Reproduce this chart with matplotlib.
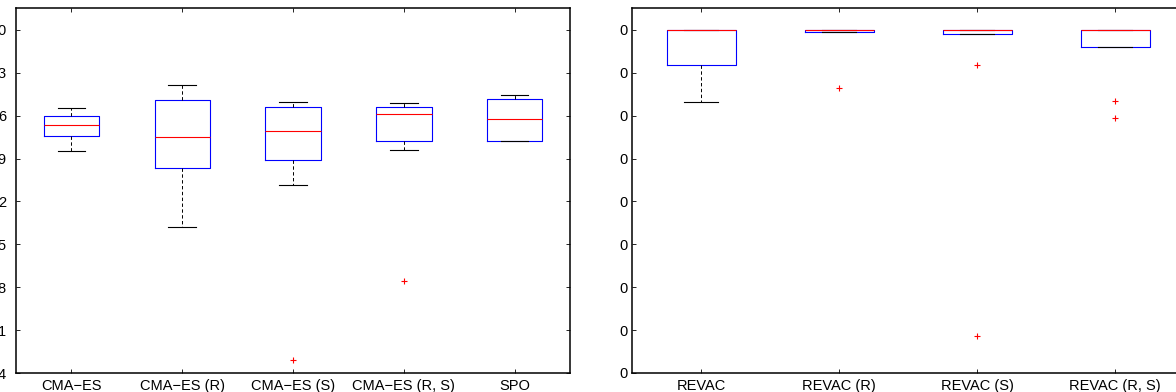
import matplotlib
matplotlib.use("Agg")
import matplotlib.pyplot as plt
import numpy as np

plt.rcParams['font.family'] = ['Liberation Sans', 'DejaVu Sans']

# ---- left panel data ----
left_labels = ["CMA\u2212ES", "CMA\u2212ES (R)", "CMA\u2212ES (S)", "CMA\u2212ES (R, S)", "SPO"]
left_whislo = [0.99803, 0.99679, 0.99747, 0.99804, 0.99819]
left_q1     = [0.99827, 0.99775, 0.99788, 0.99818, 0.99819]
left_med    = [0.99845, 0.99825, 0.99835, 0.99863, 0.99855]
left_q3     = [0.99859, 0.99886, 0.99874, 0.99874, 0.99888]
left_whishi = [0.99873, 0.99910, 0.99882, 0.99881, 0.99894]
left_fliers = [[], [], [0.99461], [0.99590], []]
left_yticks = [0.9944, 0.9951, 0.9958, 0.9965, 0.9972, 0.9979, 0.9986, 0.9993, 1.0000]
left_yticklabels = ["4", "1", "8", "5", "2", "9", "6", "3", "0"]

# ---- right panel data ----
right_labels = ["REVAC", "REVAC (R)", "REVAC (S)", "REVAC (R, S)"]
right_whislo = [63.28, 79.46, 79.00, 76.10]
right_q1     = [71.84, 79.46, 79.00, 76.10]
right_med    = [80.00, 80.00, 80.00, 80.00]
right_q3     = [80.00, 80.00, 80.00, 80.00]
right_whishi = [80.00, 80.00, 80.00, 80.00]
right_fliers = [[], [66.40], [71.84, 8.63], [63.37, 59.55]]
right_yticks = [0, 10, 20, 30, 40, 50, 60, 70, 80]
right_yticklabels = ["0"] * 9

W, H = 1176, 392
fig = plt.figure(figsize=(W / 100, H / 100), dpi=100)

bottom = 1 - 373 / H
top = 1 - 8 / H
axL = fig.add_axes([16 / W, bottom, (570 - 16) / W, top - bottom])
axR = fig.add_axes([632 / W, bottom, (1184 - 632) / W, top - bottom])


def make_stats(labels, wlo, q1, med, q3, whi, fl):
    stats = []
    for i in range(len(labels)):
        stats.append(dict(label=labels[i], whislo=wlo[i], q1=q1[i], med=med[i],
                          q3=q3[i], whishi=whi[i], fliers=np.array(fl[i])))
    return stats


boxprops = dict(color=(0, 0, 1), linewidth=0.8)
medianprops = dict(color=(1, 0, 0), linewidth=0.8)
whiskerprops = dict(color='black', linewidth=0.7, linestyle=(0, (3.5, 2.5)))
capprops = dict(color='black', linewidth=0.8)
flierprops = dict(marker='+', markeredgecolor=(1, 0, 0), markersize=5,
                  markeredgewidth=0.8, linestyle='none')


def style(ax, yticks, yticklabels, pad):
    ax.set_yticks(yticks)
    ax.set_yticklabels(yticklabels)
    ax.tick_params(direction='in', top=True, right=True, length=3,
                   width=0.6, labelsize=10.5, colors='black')
    ax.tick_params(axis='y', pad=pad)
    ax.tick_params(axis='x', pad=4)
    for s in ax.spines.values():
        s.set_linewidth(1.1)
        s.set_color('black')


statsL = make_stats(left_labels, left_whislo, left_q1, left_med, left_q3, left_whishi, left_fliers)
axL.bxp(statsL, positions=np.arange(1, len(statsL) + 1), widths=0.5, capwidths=0.25,
        boxprops=boxprops, medianprops=medianprops, whiskerprops=whiskerprops,
        capprops=capprops, flierprops=flierprops)
axL.set_xlim(0.5, len(statsL) + 0.5)
axL.set_ylim(0.9944, 0.9944 + 0.0007 * 8.513)
style(axL, left_yticks, left_yticklabels, 7.2)

statsR = make_stats(right_labels, right_whislo, right_q1, right_med, right_q3, right_whishi, right_fliers)
axR.bxp(statsR, positions=np.arange(1, len(statsR) + 1), widths=0.5, capwidths=0.25,
        boxprops=boxprops, medianprops=medianprops, whiskerprops=whiskerprops,
        capprops=capprops, flierprops=flierprops)
axR.set_xlim(0.5, len(statsR) + 0.5)
axR.set_ylim(0, 85.13)
style(axR, right_yticks, right_yticklabels, 3)

fig.savefig("out.png", dpi=100)
